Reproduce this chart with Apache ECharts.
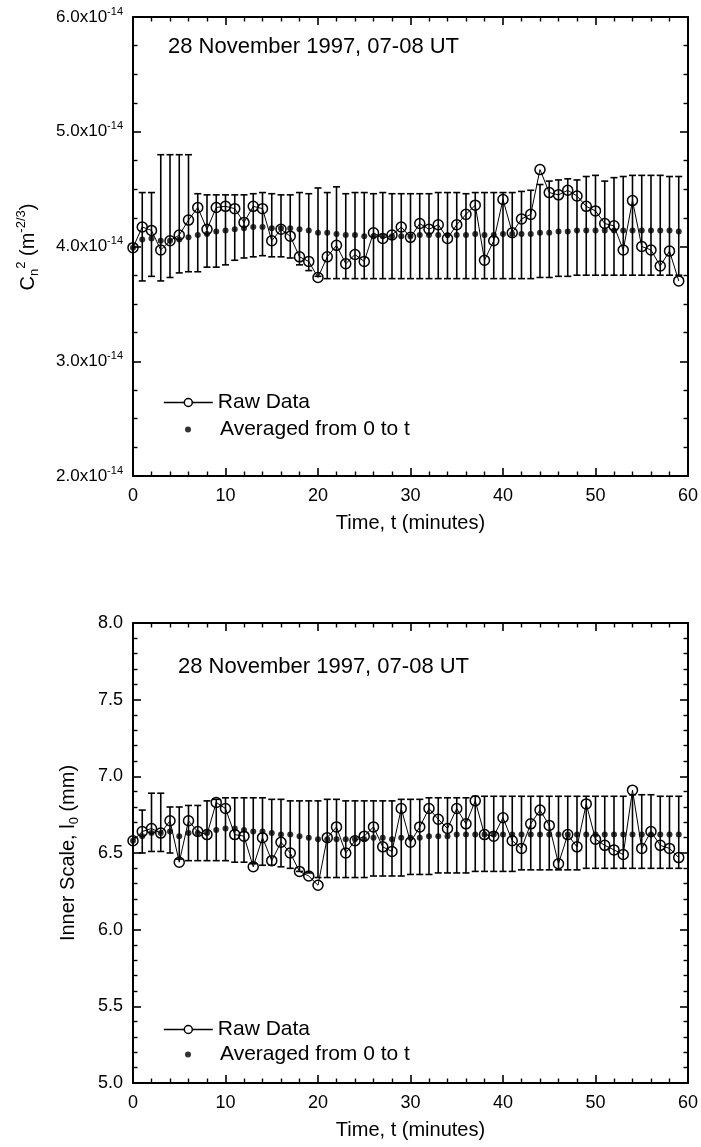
<!DOCTYPE html>
<html><head><meta charset="utf-8">
<script src="https://cdn.jsdelivr.net/npm/echarts@6/dist/echarts.min.js"></script>
<style>html,body{margin:0;padding:0;background:#fff}#c{width:701px;height:1147px}</style>
</head><body><div id="c"></div>
<script>
// ---- data ----
const time = [0,1,2,3,4,5,6,7,8,9,10,11,12,13,14,15,16,17,18,19,20,21,22,23,24,25,26,27,28,29,30,31,32,33,34,35,36,37,38,39,40,41,42,43,44,45,46,47,48,49,50,51,52,53,54,55,56,57,58,59];

// Cn^2 in units of 1e-14 m^-2/3
const cn2Raw = [3.99,4.17,4.14,3.97,4.05,4.10,4.23,4.34,4.15,4.34,4.35,4.33,4.21,4.35,4.33,4.05,4.15,4.09,3.91,3.87,3.73,3.91,4.01,3.85,3.93,3.87,4.12,4.07,4.10,4.17,4.08,4.20,4.15,4.19,4.07,4.19,4.28,4.36,3.88,4.05,4.41,4.12,4.24,4.28,4.67,4.47,4.45,4.49,4.44,4.35,4.31,4.20,4.18,3.97,4.40,4.00,3.97,3.83,3.96,3.70];
const cn2Avg = [3.99,4.06,4.07,4.05,4.05,4.06,4.08,4.10,4.11,4.13,4.14,4.15,4.16,4.17,4.17,4.16,4.16,4.16,4.15,4.14,4.12,4.12,4.11,4.10,4.10,4.09,4.09,4.09,4.09,4.09,4.09,4.10,4.10,4.10,4.10,4.10,4.10,4.11,4.10,4.10,4.11,4.11,4.11,4.11,4.12,4.12,4.13,4.13,4.14,4.14,4.14,4.14,4.14,4.14,4.14,4.14,4.14,4.14,4.14,4.13];
const cn2Upper = [null,4.47,4.47,4.80,4.80,4.80,4.80,4.46,4.45,4.45,4.45,4.45,4.45,4.46,4.47,4.46,4.45,4.45,4.47,4.46,4.51,4.47,4.52,4.46,4.47,4.47,4.46,4.47,4.46,4.46,4.46,4.46,4.46,4.47,4.47,4.47,4.46,4.47,4.47,4.47,4.47,4.47,4.48,4.49,4.54,4.57,4.58,4.59,4.58,4.61,4.62,4.57,4.60,4.61,4.62,4.62,4.62,4.62,4.61,4.61];
const cn2Lower = [null,3.70,3.74,3.70,3.73,3.77,3.78,3.78,3.82,3.82,3.84,3.88,3.90,3.91,3.92,3.91,3.91,3.90,3.84,3.79,3.74,3.72,3.72,3.72,3.72,3.72,3.72,3.72,3.72,3.72,3.72,3.72,3.72,3.72,3.72,3.72,3.72,3.72,3.72,3.72,3.72,3.72,3.72,3.72,3.73,3.73,3.74,3.74,3.75,3.75,3.75,3.75,3.75,3.75,3.75,3.75,3.75,3.75,3.75,3.75];

// Inner scale l0 in mm
const l0Raw = [6.58,6.64,6.66,6.63,6.71,6.44,6.71,6.64,6.62,6.83,6.79,6.62,6.61,6.41,6.60,6.45,6.57,6.50,6.38,6.35,6.29,6.60,6.67,6.50,6.58,6.61,6.67,6.54,6.51,6.79,6.57,6.67,6.79,6.72,6.66,6.79,6.69,6.84,6.62,6.61,6.73,6.58,6.53,6.69,6.78,6.68,6.43,6.62,6.54,6.82,6.59,6.55,6.52,6.49,6.91,6.53,6.64,6.55,6.53,6.47];
const l0Avg = [6.58,6.61,6.63,6.63,6.64,6.61,6.63,6.63,6.63,6.65,6.66,6.66,6.65,6.64,6.64,6.63,6.62,6.62,6.61,6.60,6.59,6.59,6.59,6.59,6.59,6.59,6.60,6.60,6.59,6.60,6.60,6.60,6.61,6.61,6.61,6.62,6.62,6.62,6.62,6.62,6.62,6.62,6.62,6.62,6.62,6.62,6.62,6.62,6.62,6.62,6.62,6.62,6.62,6.62,6.62,6.62,6.62,6.62,6.62,6.62];
const l0Upper = [null,6.78,6.89,6.89,6.80,6.80,6.81,6.81,6.84,6.85,6.86,6.86,6.86,6.86,6.86,6.85,6.85,6.84,6.84,6.84,6.84,6.85,6.85,6.84,6.84,6.84,6.84,6.84,6.84,6.85,6.85,6.85,6.86,6.86,6.86,6.86,6.86,6.87,6.87,6.87,6.87,6.87,6.87,6.87,6.87,6.87,6.87,6.87,6.87,6.87,6.87,6.87,6.87,6.87,6.88,6.88,6.88,6.87,6.87,6.87];
const l0Lower = [null,6.50,6.51,6.51,6.50,6.46,6.45,6.45,6.45,6.45,6.45,6.44,6.44,6.43,6.42,6.42,6.41,6.40,6.38,6.37,6.34,6.34,6.34,6.34,6.34,6.34,6.35,6.35,6.35,6.35,6.36,6.36,6.36,6.37,6.37,6.37,6.37,6.38,6.38,6.38,6.38,6.38,6.39,6.39,6.39,6.39,6.39,6.39,6.39,6.40,6.40,6.40,6.40,6.40,6.40,6.40,6.40,6.40,6.40,6.40];

const xTicks = [0, 60, 10];           // min, max, interval
const cn2Ticks = [2, 6, 1];
const l0Ticks = [5, 8, 0.5];
const titleText = '28 November 1997, 07-08 UT';
const xName = 'Time, t (minutes)';
const rawName = 'Raw Data';
const avgName = 'Averaged from 0 to t';

// ---- chart ----
const FONT = "'Liberation Sans', Arial, sans-serif";
const chart = echarts.init(document.getElementById('c'), null, {renderer: 'canvas'});

function pairs(y) { return time.map((t, i) => [t, y[i]]); }
function errData(lo, hi) {
  return time.map((t, i) => [t, lo[i], hi[i]]).filter(d => d[1] != null && d[2] != null);
}
function renderErr(params, api) {
  const x = api.value(0), lo = api.value(1), hi = api.value(2);
  const p1 = api.coord([x, hi]), p2 = api.coord([x, lo]);
  const w = 3.5;
  const st = {stroke: '#000', lineWidth: 1.6};
  return {type: 'group', children: [
    {type: 'line', shape: {x1: p1[0], y1: p1[1], x2: p2[0], y2: p2[1]}, style: st},
    {type: 'line', shape: {x1: p1[0] - w, y1: p1[1], x2: p1[0] + w, y2: p1[1]}, style: st},
    {type: 'line', shape: {x1: p2[0] - w, y1: p2[1], x2: p2[0] + w, y2: p2[1]}, style: st}
  ]};
}

const axisLineStyle = {color: '#000', width: 2};
function xAxisDef(grid, pos, showLabel) {
  return {
    type: 'value', gridIndex: grid, position: pos,
    min: xTicks[0], max: xTicks[1], interval: xTicks[2],
    axisLine: {show: true, onZero: false, lineStyle: axisLineStyle},
    axisTick: {show: true, inside: true, length: 8, lineStyle: {color: '#000', width: 1.6}},
    minorTick: {show: true, splitNumber: 5, length: 4.5, lineStyle: {color: '#000', width: 1.4}},
    splitLine: {show: false}, minorSplitLine: {show: false},
    axisLabel: {show: showLabel, color: '#000', fontSize: 18, fontFamily: FONT, margin: 11},
    name: showLabel ? xName : '', nameLocation: 'middle', nameGap: 37,
    nameTextStyle: {color: '#000', fontSize: 20, fontFamily: FONT}
  };
}
function yAxisDef(grid, pos, ticks, minorSplit, showLabel, fmt) {
  const lab = {show: showLabel, color: '#000', fontSize: 18, fontFamily: FONT, margin: 10};
  if (fmt) { lab.formatter = fmt.f; lab.rich = fmt.rich; }
  return {
    type: 'value', gridIndex: grid, position: pos,
    min: ticks[0], max: ticks[1], interval: ticks[2],
    axisLine: {show: true, onZero: false, lineStyle: axisLineStyle},
    axisTick: {show: true, inside: true, length: 8, lineStyle: {color: '#000', width: 1.6}},
    minorTick: {show: true, splitNumber: minorSplit, length: 4.5, lineStyle: {color: '#000', width: 1.4}},
    splitLine: {show: false}, minorSplitLine: {show: false},
    axisLabel: lab
  };
}
const cn2Fmt = {
  f: v => '{a|' + v.toFixed(1) + 'x10}{s|-14}',
  rich: {
    a: {fontSize: 17, lineHeight: 22, fontFamily: FONT, color: '#000'},
    s: {fontSize: 11, lineHeight: 12, verticalAlign: 'top', fontFamily: FONT, color: '#000'}
  }
};
const l0Fmt = {f: v => v.toFixed(1), rich: {}};

const rawStyle = (xi, yi, data) => ({
  type: 'line', name: rawName, xAxisIndex: xi, yAxisIndex: yi, data: data,
  symbol: 'circle', symbolSize: 10, z: 4,
  lineStyle: {color: '#000', width: 1},
  itemStyle: {color: 'rgba(255,255,255,0)', borderColor: '#000', borderWidth: 1.5},
  emphasis: {disabled: true}, animation: false
});
const avgStyle = (xi, yi, data) => ({
  type: 'scatter', name: avgName, xAxisIndex: xi, yAxisIndex: yi, data: data,
  symbol: 'circle', symbolSize: 6, z: 6,
  itemStyle: {color: '#000'}, emphasis: {disabled: true}, animation: false
});
const errStyle = (xi, yi, data) => ({
  type: 'custom', xAxisIndex: xi, yAxisIndex: yi, data: data, z: 3,
  renderItem: renderErr, silent: true, animation: false
});

function legends(top1, top2) {
  const base = {padding: 0, orient: 'horizontal', selectedMode: false,
    textStyle: {color: '#000', fontSize: 21, fontFamily: FONT}};
  return [
    Object.assign({}, base, {left: 163, top: top1, itemWidth: 49, itemHeight: 10,
      lineStyle: {width: 1.6}, data: [{name: rawName, itemStyle: {color: '#fff', borderColor: '#000', borderWidth: 1.5}}]}),
    Object.assign({}, base, {left: 185, top: top2, itemWidth: 6, itemHeight: 6,
      textStyle: {color: '#000', fontSize: 21, fontFamily: FONT, padding: [0, 0, 0, 24]},
      data: [{name: avgName, icon: 'circle'}]})
  ];
}

const option = {
  backgroundColor: '#fff',
  animation: false,
  grid: [
    {left: 133, top: 17, width: 555, height: 459},
    {left: 133, top: 623, width: 555, height: 460}
  ],
  title: [
    {text: titleText, left: 168, top: 36, padding: 0, textStyle: {color: '#000', fontSize: 22, fontWeight: 'normal', fontFamily: FONT}},
    {text: titleText, left: 178, top: 656, padding: 0, textStyle: {color: '#000', fontSize: 22, fontWeight: 'normal', fontFamily: FONT}}
  ],
  legend: legends(392, 419).concat(legends(1019, 1044)),
  xAxis: [
    xAxisDef(0, 'bottom', true), xAxisDef(0, 'top', false),
    xAxisDef(1, 'bottom', true), xAxisDef(1, 'top', false)
  ],
  yAxis: [
    yAxisDef(0, 'left', cn2Ticks, 4, true, cn2Fmt), yAxisDef(0, 'right', cn2Ticks, 4, false),
    yAxisDef(1, 'left', l0Ticks, 5, true, l0Fmt), yAxisDef(1, 'right', l0Ticks, 5, false)
  ],
  series: [
    errStyle(0, 0, errData(cn2Lower, cn2Upper)),
    rawStyle(0, 0, pairs(cn2Raw)),
    avgStyle(0, 0, pairs(cn2Avg)),
    errStyle(2, 2, errData(l0Lower, l0Upper)),
    rawStyle(2, 2, pairs(l0Raw)),
    avgStyle(2, 2, pairs(l0Avg))
  ],
  graphic: [
    {type: 'text', x: 28, y: 247, rotation: Math.PI / 2,
      style: {text: '{b|C}{sub|n}{sup|2}{b| (m}{sup|-2/3}{b|)}', align: 'center', verticalAlign: 'middle',
        rich: {
          b: {fontSize: 20, lineHeight: 26, fontFamily: FONT, fill: '#000'},
          sub: {fontSize: 13, lineHeight: 14, verticalAlign: 'bottom', fontFamily: FONT, fill: '#000'},
          sup: {fontSize: 13, lineHeight: 14, verticalAlign: 'top', fontFamily: FONT, fill: '#000'}
        }}},
    {type: 'text', x: 68, y: 853, rotation: Math.PI / 2,
      style: {text: '{b|Inner Scale, l}{sub|0}{b| (mm)}', align: 'center', verticalAlign: 'middle',
        rich: {
          b: {fontSize: 20, lineHeight: 26, fontFamily: FONT, fill: '#000'},
          sub: {fontSize: 13, lineHeight: 14, verticalAlign: 'bottom', fontFamily: FONT, fill: '#000'}
        }}}
  ]
};
chart.setOption(option);
</script>
</body></html>
